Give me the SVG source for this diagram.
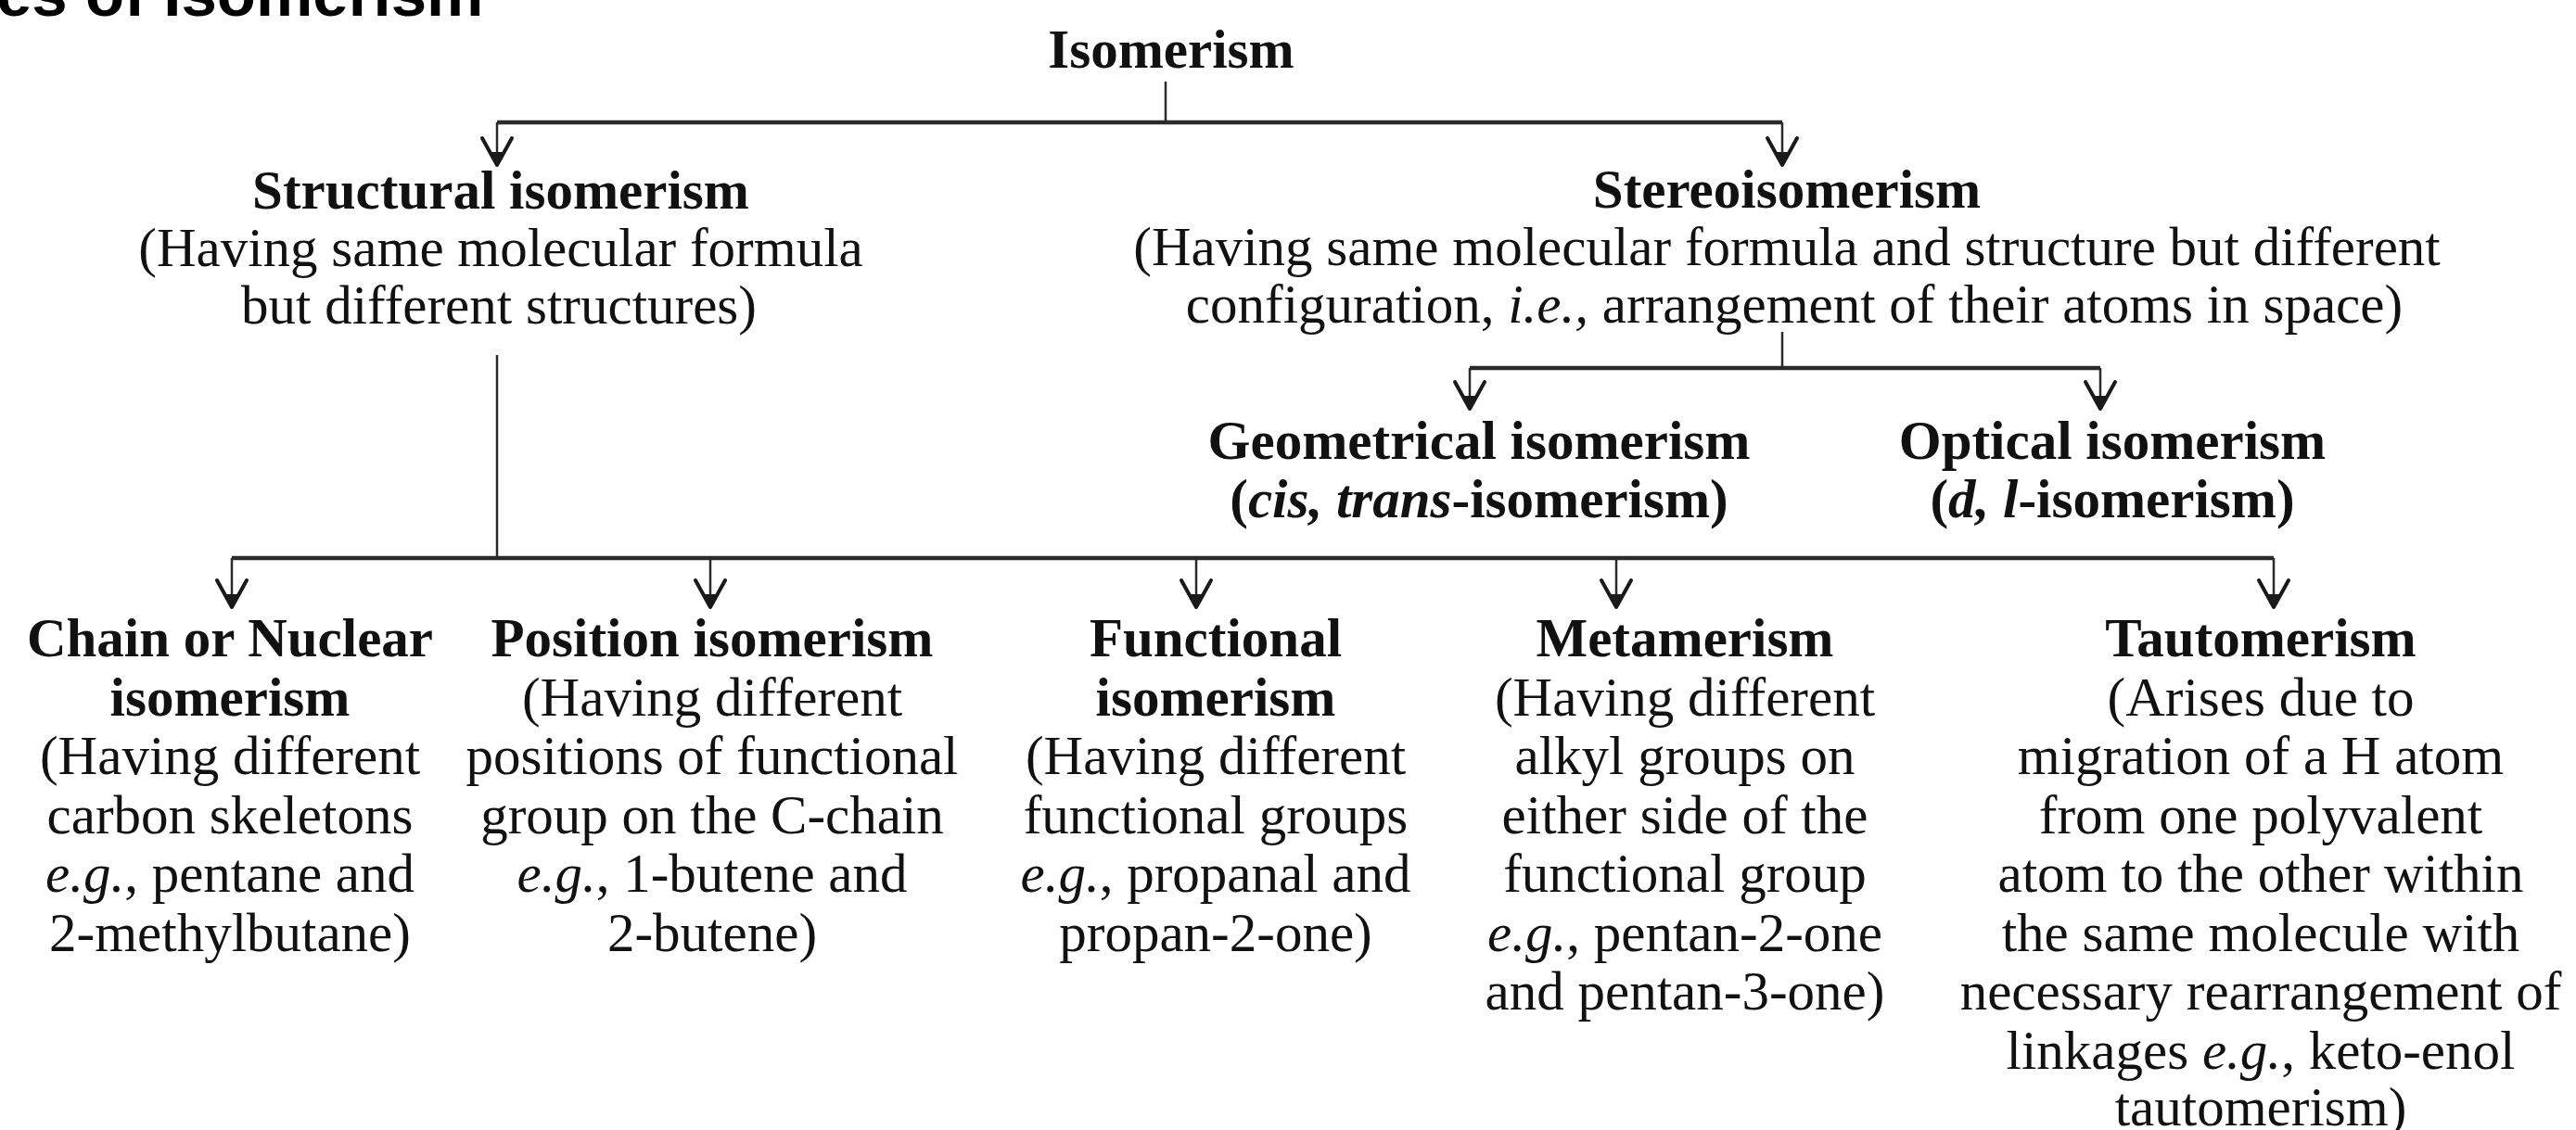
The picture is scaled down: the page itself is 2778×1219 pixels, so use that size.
<svg xmlns="http://www.w3.org/2000/svg" width="2778" height="1219" viewBox="0 0 2778 1219">
<defs>
<style>
.t{font-family:"Liberation Serif","Times New Roman",serif;font-size:59px;fill:#111;text-anchor:middle}
.b{font-weight:bold}
.i{font-style:italic}
.title{font-family:"Liberation Sans",Arial,sans-serif;font-weight:bold;font-size:69px;fill:#000}
.h{stroke:#2a2a2a;stroke-width:4.5;fill:none}
.v{stroke:#2a2a2a;stroke-width:2.5;fill:none}
.a{stroke:#2a2a2a;stroke-width:2.5;fill:none;marker-end:url(#ah)}
</style>
<marker id="ah" markerUnits="userSpaceOnUse" orient="auto" overflow="visible" refX="0" refY="0" markerWidth="1" markerHeight="1">
<path d="M-29,-16 L0,0 L-29,16" fill="none" stroke="#1a1a1a" stroke-width="4" stroke-linejoin="round" stroke-linecap="round"/>
<path d="M-14,-7 L1,0 L-14,7Z" fill="#1a1a1a"/>
</marker>
</defs>
<rect width="2778" height="1219" fill="#fff"/>
<text class="title" x="-4" y="17">es of Isomerism</text>

<g id="connectors">
<path class="v" d="M1257,88 V132"/>
<path class="h" d="M536,132 H1922"/>
<path class="a" d="M536,132 V178"/>
<path class="a" d="M1922,132 V178"/>
<path class="v" d="M1922,358 V397"/>
<path class="h" d="M1585,397 H2265"/>
<path class="a" d="M1585,397 V441"/>
<path class="a" d="M2265,397 V441"/>
<path class="v" d="M536,383 V602"/>
<path class="h" d="M250,602 H2452"/>
<path class="a" d="M250,602 V655"/>
<path class="a" d="M766,602 V655"/>
<path class="a" d="M1290,602 V655"/>
<path class="a" d="M1743,602 V655"/>
<path class="a" d="M2452,602 V655"/>
</g>

<g id="isomerism">
<text class="t b" x="1263" y="73">Isomerism</text>
</g>

<g id="structural">
<text class="t b" x="540" y="225">Structural isomerism</text>
<text class="t" x="540" y="287">(Having same molecular formula</text>
<text class="t" x="538" y="349">but different structures)</text>
</g>

<g id="stereo">
<text class="t b" x="1927" y="224">Stereoisomerism</text>
<text class="t" x="1927" y="286">(Having same molecular formula and structure but different</text>
<text class="t" x="1935" y="348">configuration, <tspan class="i">i.e.,</tspan> arrangement of their atoms in space)</text>
</g>

<g id="geometrical">
<text class="t b" x="1595" y="495">Geometrical isomerism</text>
<text class="t b" x="1595" y="558">(<tspan class="i">cis, trans</tspan>-isomerism)</text>
</g>

<g id="optical">
<text class="t b" x="2278" y="495">Optical isomerism</text>
<text class="t b" x="2278" y="558">(<tspan class="i">d, l</tspan>-isomerism)</text>
</g>

<g id="chain">
<text class="t b" x="248" y="708">Chain or Nuclear</text>
<text class="t b" x="248" y="771.5">isomerism</text>
<text class="t" x="248" y="835">(Having different</text>
<text class="t" x="248" y="898.5">carbon skeletons</text>
<text class="t" x="248" y="962"><tspan class="i">e.g.</tspan>, pentane and</text>
<text class="t" x="248" y="1025.5">2-methylbutane)</text>
</g>

<g id="position">
<text class="t b" x="768" y="708">Position isomerism</text>
<text class="t" x="768" y="771.5">(Having different</text>
<text class="t" x="768" y="835">positions of functional</text>
<text class="t" x="768" y="898.5">group on the C-chain</text>
<text class="t" x="768" y="962"><tspan class="i">e.g.</tspan>, 1-butene and</text>
<text class="t" x="768" y="1025.5">2-butene)</text>
</g>

<g id="functional">
<text class="t b" x="1311" y="708">Functional</text>
<text class="t b" x="1311" y="771.5">isomerism</text>
<text class="t" x="1311" y="835">(Having different</text>
<text class="t" x="1311" y="898.5">functional groups</text>
<text class="t" x="1311" y="962"><tspan class="i">e.g.</tspan>, propanal and</text>
<text class="t" x="1311" y="1025.5">propan-2-one)</text>
</g>

<g id="metamerism">
<text class="t b" x="1817" y="708">Metamerism</text>
<text class="t" x="1817" y="771.5">(Having different</text>
<text class="t" x="1817" y="835">alkyl groups on</text>
<text class="t" x="1817" y="898.5">either side of the</text>
<text class="t" x="1817" y="962">functional group</text>
<text class="t" x="1817" y="1025.5"><tspan class="i">e.g.</tspan>, pentan-2-one</text>
<text class="t" x="1817" y="1089">and pentan-3-one)</text>
</g>

<g id="tautomerism">
<text class="t b" x="2438" y="708">Tautomerism</text>
<text class="t" x="2438" y="771.5">(Arises due to</text>
<text class="t" x="2438" y="835">migration of a H atom</text>
<text class="t" x="2438" y="898.5">from one polyvalent</text>
<text class="t" x="2438" y="962">atom to the other within</text>
<text class="t" x="2438" y="1025.5">the same molecule with</text>
<text class="t" x="2438" y="1089">necessary rearrangement of</text>
<text class="t" x="2438" y="1152.5">linkages <tspan class="i">e.g.</tspan>, keto-enol</text>
<text class="t" x="2438" y="1214">tautomerism)</text>
</g>
</svg>
